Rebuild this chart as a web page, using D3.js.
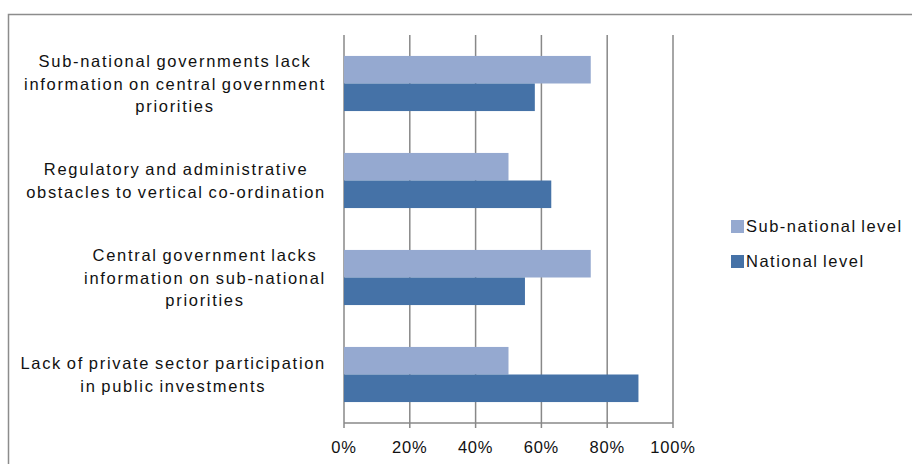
<!DOCTYPE html>
<html>
<head>
<meta charset="utf-8">
<script src="https://cdn.jsdelivr.net/npm/d3@7"></script>
<style>
  body { margin: 0; background: #fff; }
  svg { display: block; font-family: "Liberation Sans", Arial, sans-serif; }
  .lbl { font-size: 16.5px; letter-spacing: 1.7px; word-spacing: -1.5px; fill: #111; }
  .leg { font-size: 16.5px; letter-spacing: 1.5px; word-spacing: -1.5px; fill: #111; }
  .tick { font-size: 16.5px; letter-spacing: 0.8px; fill: #111; }
</style>
</head>
<body>
<div id="chart"></div>
<script>
// categories, top to bottom (each entry = label lines)
const categories = [
  ["Sub-national governments lack", "information on central government", "priorities"],
  ["Regulatory and administrative", "obstacles to vertical co-ordination"],
  ["Central government lacks", "information on sub-national", "priorities"],
  ["Lack of private sector participation", "in public investments"]
];
const seriesNames = ["Sub-national level", "National level"];
const subNational = [0.75, 0.50, 0.75, 0.50];
const national = [0.58, 0.63, 0.55, 0.895];
const xTicks = [0, 0.2, 0.4, 0.6, 0.8, 1];
const colors = ["#95a9d0", "#4572a7"];

const W = 912, H = 464;
const plot = { left: 344, right: 673, top: 35, bottom: 423 };

const svg = d3.select("#chart").append("svg")
  .attr("width", W).attr("height", H);

// outer chart border
svg.append("rect")
  .attr("x", 8.5).attr("y", 14.5)
  .attr("width", 920).attr("height", 470)
  .attr("fill", "none").attr("stroke", "#8c8c8c").attr("stroke-width", 1.5);

const x = d3.scaleLinear().domain([0, 1]).range([plot.left, plot.right]);
const y = d3.scaleBand().domain(d3.range(categories.length))
  .range([plot.top, plot.bottom]);
const inner = d3.scaleBand().domain([0, 1])
  .range([0, y.bandwidth()]).paddingOuter(0.76).paddingInner(0);

// gridlines
svg.append("g").selectAll("line").data(xTicks).join("line")
  .attr("x1", d => x(d)).attr("x2", d => x(d))
  .attr("y1", plot.top).attr("y2", plot.bottom + 5)
  .attr("stroke", "#888").attr("stroke-width", 1.5);

// bars
const rows = categories.map((c, i) => [subNational[i], national[i]]);
const grp = svg.append("g").selectAll("g").data(rows).join("g")
  .attr("transform", (d, i) => `translate(0,${y(i)})`);
grp.selectAll("rect").data(d => d).join("rect")
  .attr("x", x(0))
  .attr("y", (d, j) => inner(j))
  .attr("width", d => x(d) - x(0))
  .attr("height", inner.bandwidth())
  .attr("fill", (d, j) => colors[j]);

// bottom axis line
svg.append("line")
  .attr("x1", plot.left).attr("x2", plot.right)
  .attr("y1", plot.bottom).attr("y2", plot.bottom)
  .attr("stroke", "#888").attr("stroke-width", 1.5);

// tick labels
svg.append("g").selectAll("text").data(xTicks).join("text")
  .attr("class", "tick")
  .attr("x", d => x(d)).attr("y", 453)
  .attr("text-anchor", "middle")
  .text(d3.format(".0%"));

// category labels: block right-aligned to axis, lines centred in block
const lineH = 22.5;
categories.forEach((lines, i) => {
  const g = svg.append("g");
  const texts = g.selectAll("text").data(lines).join("text")
    .attr("class", "lbl")
    .attr("text-anchor", "middle")
    .text(d => d);
  const maxW = d3.max(texts.nodes(), n => n.getComputedTextLength());
  const cx = 326 - maxW / 2;
  const cy = y(i) + y.bandwidth() / 2;
  texts.attr("x", cx)
    .attr("y", (d, k) => cy + (k - (lines.length - 1) / 2) * lineH + 6);
});

// legend
const leg = svg.append("g").selectAll("g").data(seriesNames).join("g")
  .attr("transform", (d, i) => `translate(731,${220 + i * 35})`);
leg.append("rect").attr("width", 13).attr("height", 13)
  .attr("fill", (d, i) => colors[i]);
leg.append("text").attr("class", "leg").attr("x", 15).attr("y", 12)
  .text(d => d);
</script>
</body>
</html>
